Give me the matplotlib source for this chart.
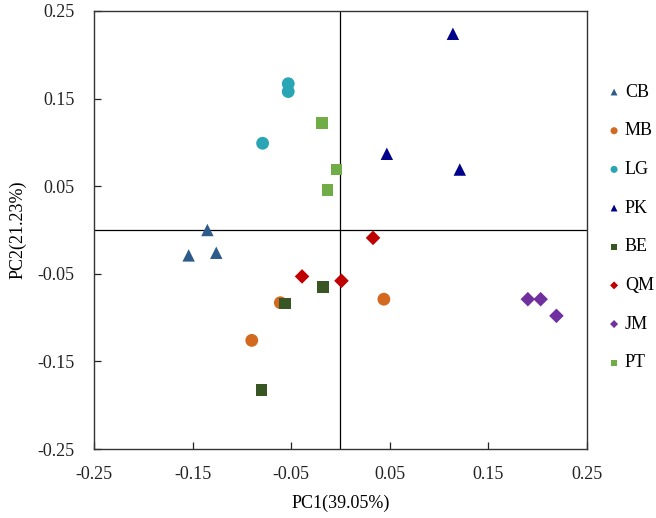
import matplotlib.pyplot as plt
import numpy as np

plt.rcParams['font.family'] = ['Liberation Serif', 'DejaVu Serif']

groups = ['CB', 'MB', 'LG', 'PK', 'BE', 'QM', 'JM', 'PT']
pc1 = {
    'CB': [-0.154, -0.135, -0.126],
    'MB': [-0.061, -0.090, 0.044],
    'LG': [-0.053, -0.053, -0.079],
    'PK': [0.114, 0.047, 0.121],
    'BE': [-0.056, -0.018, -0.080],
    'QM': [-0.039, 0.001, 0.033],
    'JM': [0.190, 0.203, 0.219],
    'PT': [-0.019, -0.013, -0.004],
}
pc2 = {
    'CB': [-0.029, 0.000, -0.026],
    'MB': [-0.083, -0.126, -0.079],
    'LG': [0.167, 0.158, 0.099],
    'PK': [0.224, 0.087, 0.069],
    'BE': [-0.084, -0.065, -0.183],
    'QM': [-0.053, -0.058, -0.009],
    'JM': [-0.079, -0.079, -0.098],
    'PT': [0.122, 0.046, 0.069],
}
colors = {'CB': '#2E5C8A', 'MB': '#D2691E', 'LG': '#2AA5B5', 'PK': '#00008B',
          'BE': '#375623', 'QM': '#C00000', 'JM': '#7030A0', 'PT': '#70AD47'}
markers = {'CB': '^', 'MB': 'o', 'LG': 'o', 'PK': '^',
           'BE': 's', 'QM': 'D', 'JM': 'D', 'PT': 's'}
sizes = {'^': 80, 'o': 85, 's': 70, 'D': 55}

fig = plt.figure(figsize=(6.56, 5.18), dpi=100)
ax = fig.add_axes([0.1433, 0.1332, 0.7515, 0.8456])

ax.axhline(0, color='black', lw=0.9, zorder=1)
ax.axvline(0, color='black', lw=0.9, zorder=1)

for g in groups:
    m = markers[g]
    ax.scatter(pc1[g], pc2[g], marker=m, s=sizes[m], color=colors[g],
               edgecolors='none', label=g, zorder=3)

ticks = [-0.25, -0.15, -0.05, 0.05, 0.15, 0.25]
ax.set_xlim(-0.25, 0.25)
ax.set_ylim(-0.25, 0.25)
ax.set_xticks(ticks)
ax.set_yticks(ticks)
ax.set_xticklabels([f'{t:.2f}' for t in ticks])
ax.set_yticklabels([f'{t:.2f}' for t in ticks])
ax.tick_params(direction='in', length=5, width=0.9, labelsize=13, colors='#222222')
ax.tick_params(axis='y', pad=14)
ax.tick_params(axis='x', pad=12)
for s in ax.spines.values():
    s.set_linewidth(1.0)
    s.set_color('#333333')

ax.set_xlabel('PC1(39.05%)', fontsize=13, labelpad=9)
ax.set_ylabel('PC2(21.23%)', fontsize=13, labelpad=8)

ax.legend(loc='upper left', bbox_to_anchor=(1.0, 0.875), frameon=False,
          fontsize=13, markerscale=0.55, handletextpad=0.1, labelspacing=1.2,
          handlelength=1.0, borderaxespad=0.6)

fig.savefig('out.png', dpi=100)
